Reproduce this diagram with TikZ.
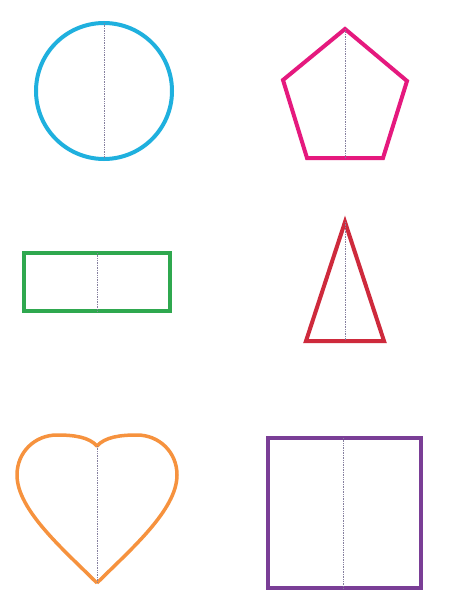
\documentclass[tikz,border=0pt]{standalone}
\definecolor{skyblue}{HTML}{1FB0DE}
\definecolor{magentapk}{HTML}{E5197E}
\definecolor{leafgreen}{HTML}{2FA84F}
\definecolor{crimson}{HTML}{CE2A3C}
\definecolor{tangerine}{HTML}{F6923E}
\definecolor{plum}{HTML}{7A3E96}
\definecolor{foldgray}{HTML}{86809F}

\tikzset{
  outline/.style={line width=4pt, line join=miter},
  foldline/.style={foldgray, line width=0.7pt, densely dotted}
}

\begin{document}
\begin{tikzpicture}[x=1pt, y=-1pt]

% Background (page size)
\fill[white] (0,0) rectangle (465,591);

% ── Circle ──
\coordinate (ccen) at (104,91);
\coordinate (ctop) at (104,23);
\coordinate (cbot) at (104,159);
\draw[skyblue, outline] (ccen) circle [radius=68pt];
\draw[foldline] (ctop) -- (cbot);

% ── Pentagon ──
\coordinate (ptop) at (345,29);
\coordinate (pbot) at (345,158);
\draw[magentapk, outline] (ptop) -- (407,81) -- (383,158) -- (307,158) -- (283,80) -- cycle;
\draw[foldline] (ptop) -- (pbot);

% ── Rectangle ──
\coordinate (rtop) at (97,253);
\coordinate (rbot) at (97,311);
\draw[leafgreen, outline, line width=4.5pt] (24,253) rectangle (170,311);
\draw[foldline] (rtop) -- (rbot);

% ── Triangle ──
\coordinate (ttop) at (345,222);
\coordinate (tbot) at (345,341);
\draw[crimson, outline] (ttop) -- (384,341) -- (306,341) -- cycle;
\draw[foldline] (ttop) -- (tbot);

% ── Heart ──
\coordinate (htop) at (97,446);
\coordinate (hbot) at (97,583);
\draw[tangerine, outline, line width=3.5pt, line join=round]
  (hbot) .. controls (64,550) and (17,510) .. (17,475)
         .. controls (17,452) and (35,435) .. (57,435)
         .. controls (74,435) and (89,437) .. (htop)
         .. controls (105,437) and (120,435) .. (137,435)
         .. controls (159,435) and (177,452) .. (177,475)
         .. controls (177,510) and (130,550) .. (hbot);
\draw[foldline] (htop) -- (hbot);

% ── Square ──
\coordinate (stop) at (343,438);
\coordinate (sbot) at (343,588);
\draw[plum, outline, line width=4.5pt] (268,438) rectangle (421,588);
\draw[foldline] (stop) -- (sbot);

\end{tikzpicture}
\end{document}
